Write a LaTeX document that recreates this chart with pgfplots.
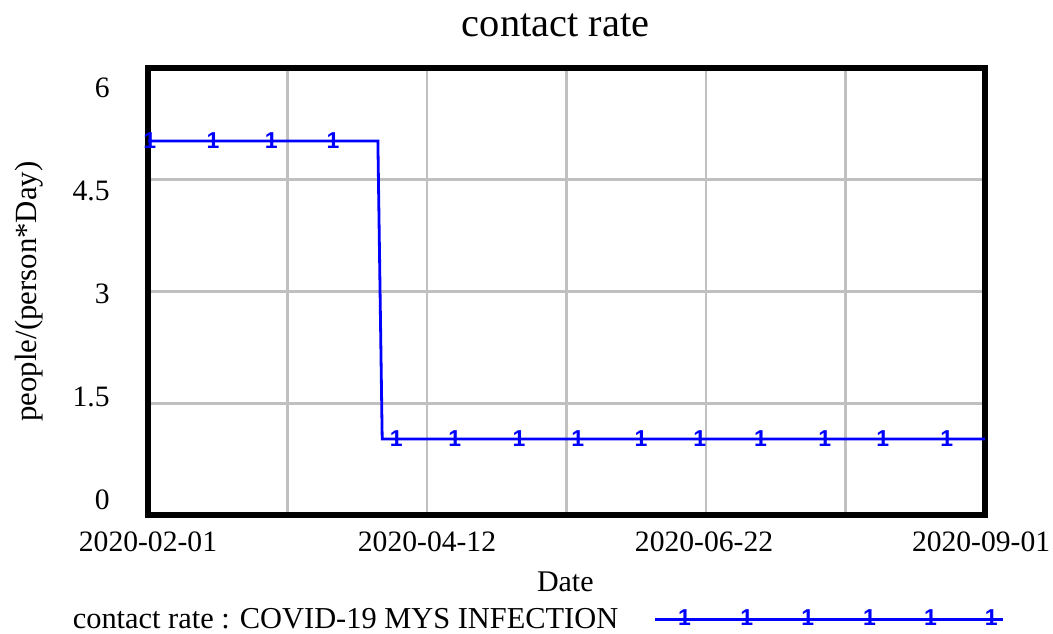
\documentclass[border=0pt]{standalone}
\usepackage{fontspec}
\setmainfont{Liberation Serif}
\newfontfamily\markfont{Liberation Sans}
\usepackage{pgfplots}
\pgfplotsset{compat=1.18}
\definecolor{vblue}{RGB}{0,0,255}
\definecolor{vgrid}{RGB}{192,192,192}
\begin{document}
\begin{tikzpicture}
\path[use as bounding box] (-74pt,-59pt) rectangle (452.5pt,257.5pt);
\begin{axis}[
  at={(0,0)}, anchor=south west,
  scale only axis, width=418.5pt, height=223.5pt,
  xmin=0, xmax=213, ymin=0, ymax=6,
  axis line style={line width=2.7pt, black, line cap=rect},
  xtick={0,35.5,71,106.5,142,177.5,213}, xticklabels={},
  ytick={0,1.5,3,4.5,6}, yticklabels={},
  major tick length=0pt,
  xmajorgrids, ymajorgrids,
  grid style={vgrid, line width=1.3pt},
  extra x ticks={0,71,141.5,212},
  extra x tick labels={2020-02-01,2020-04-12,2020-06-22,2020-09-01},
  extra x tick style={grid=none, xticklabel style={anchor=base, yshift=-18.35pt}},
  extra y ticks={0.2,1.59,2.97,4.35,5.73},
  extra y tick labels={0,1.5,3,4.5,6},
  extra y tick style={grid=none, yticklabel style={anchor=east, inner sep=0pt, xshift=-19pt}},
  ticklabel style={font=\fontsize{14.8}{17}\selectfont},
  /pgf/number format/assume math mode=true,
  title={contact rate},
  title style={at={(axis description cs:0.4869,1.0447)}, anchor=base, inner sep=0pt, font=\fontsize{20.2}{24}\selectfont},
  xlabel={Date},
  xlabel style={at={(axis description cs:0.4986,-0.1707)}, anchor=base, inner sep=0pt, font=\fontsize{15}{18}\selectfont},
  ylabel={people/(person*Day)},
  ylabel style={at={(axis description cs:-0.1338,0.5)}, anchor=base, inner sep=0pt, font=\fontsize{15.4}{18}\selectfont},
  legend style={at={(axis description cs:-0.0946,-0.2337)}, anchor=west, draw=none, fill=none, inner sep=0pt, outer sep=0pt, font=\fontsize{15.2}{18}\selectfont},
  legend cell align=left,
  legend plot pos=right,
]
\addplot[vblue, line width=1.4pt, no marks,
  legend image code/.code={
    \path (0pt,0pt);
    \draw[vblue, line width=1.4pt] (15.75pt,0pt) -- (189.75pt,0pt);
    \foreach \p in {28.25,59.4,89.9,120.75,151.25,181.6} {\node[text=vblue, inner sep=0pt, font=\markfont\bfseries\fontsize{11.5}{13}\selectfont, xshift=-1pt] at (\p pt,0pt) {1};}
  }]
  coordinates {(0,5.02) (58.5,5.02) (59.6,1.02) (213,1.02)};
\addlegendentry{contact rate : COVID-19 MYS INFECTION}
\addplot[forget plot, only marks, mark=text, text mark={1}, text mark as node=true,
  text mark style={text=vblue, inner sep=0pt, xshift=-1pt, font=\markfont\bfseries\fontsize{11.5}{13}\selectfont}]
  coordinates {(0.94,5.02) (17.05,5.02) (31.9,5.02) (47.6,5.02)
    (63.7,1.02) (78.6,1.02) (94.9,1.02) (109.9,1.02) (126.0,1.02) (140.9,1.02)
    (156.4,1.02) (172.7,1.02) (187.5,1.02) (203.8,1.02)};
\end{axis}
\end{tikzpicture}
\end{document}
